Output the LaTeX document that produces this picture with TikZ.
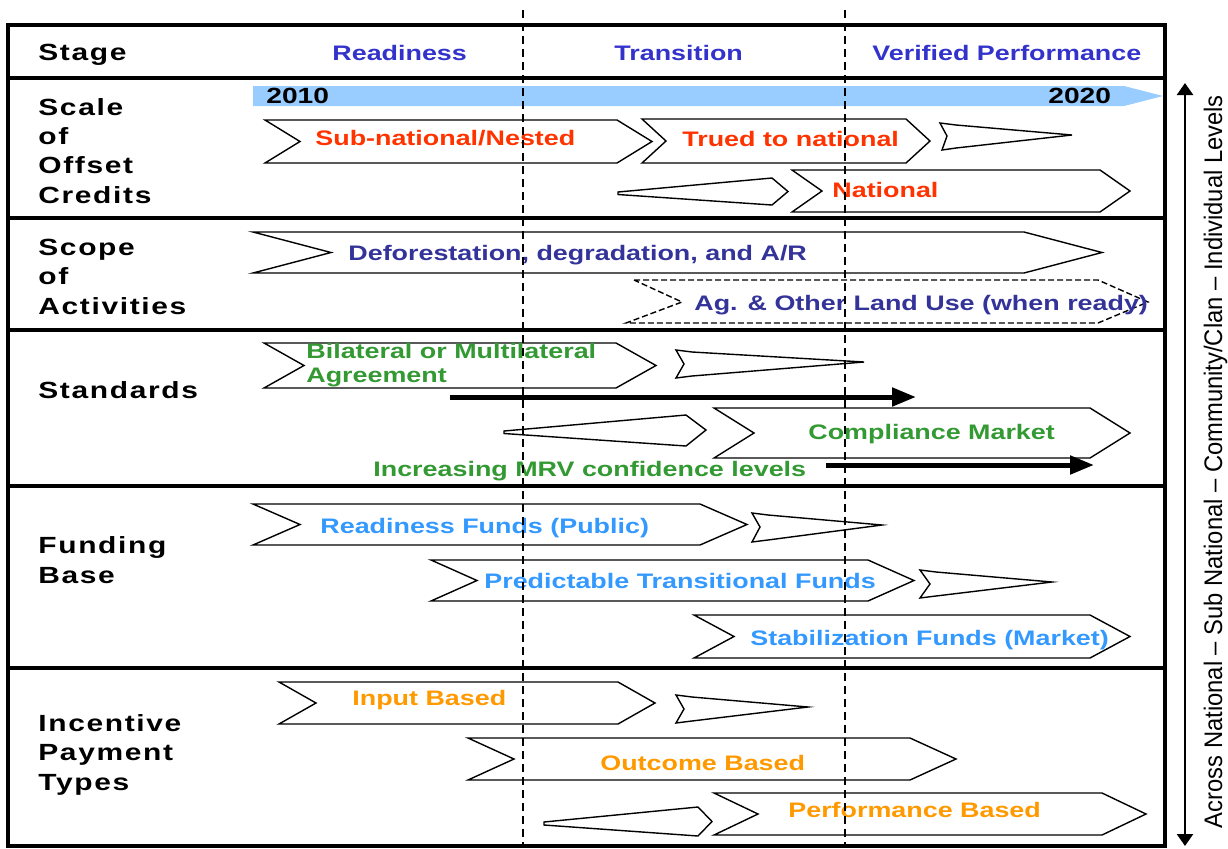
\documentclass[tikz,border=0pt]{standalone}
\usepackage{fontspec}
\setmainfont{Liberation Sans}[FakeStretch=1.28]
\newfontfamily\labelfont{Liberation Sans}[FakeStretch=1.28,LetterSpace=7]
\usetikzlibrary{arrows.meta}
\definecolor{stageblue}{RGB}{51,51,204}
\definecolor{bandblue}{RGB}{153,204,255}
\definecolor{scalered}{RGB}{255,51,0}
\definecolor{scopeblue}{RGB}{51,51,153}
\definecolor{stdgreen}{RGB}{51,153,51}
\definecolor{fundblue}{RGB}{51,153,255}
\definecolor{payorange}{RGB}{255,153,0}
\begin{document}
\begin{tikzpicture}[x=0.5pt,y=-0.5pt]
                \tikzset{every node/.style={inner sep=0pt, anchor=base west, font=\bfseries\fontsize{10.5}{12}\selectfont},
                  rowlabel/.style={align=left, font=\labelfont\bfseries\fontsize{11.7}{14.6}\selectfont},
                  grid/.style={line width=2pt},
                  phase/.style={line width=1pt, dash pattern=on 4pt off 2.5pt},
                  chev/.style={line width=0.7pt},
                  bigarrow/.style={line width=2.5pt, -{Triangle[length=12pt,width=9pt]}}}
                \useasboundingbox (0,0) rectangle (1228,848);
                % table frame and rows
                \draw[grid] (8,25) rectangle (1165,846);
                \draw[grid] (8,78) -- (1165,78);
                \draw[grid] (8,218) -- (1165,218);
                \draw[grid] (8,330) -- (1165,330);
                \draw[grid] (8,486) -- (1165,486);
                \draw[grid] (8,668) -- (1165,668);
                % header
                \node[rowlabel] (stage) at (38,60) {Stage};
                \node[text=stageblue] (ready) at (332,60) {Readiness};
                \node[text=stageblue] (trans) at (614,60) {Transition};
                \node[text=stageblue] (verif) at (872,60) {Verified Performance};
                % row labels (base = last line)
                \node[rowlabel] (scale) at (38,203) {Scale\\of\\Offset\\Credits};
                \node[rowlabel] (scope) at (38,314) {Scope\\of\\Activities};
                \node[rowlabel] (standards) at (38,398) {Standards};
                \node[rowlabel] (funding) at (38,583) {Funding\\Base};
                \node[rowlabel] (incentive) at (38,790) {Incentive\\Payment\\Types};
                % time band
                \fill[bandblue] (253,86) -- (1124,86) -- (1163,96) -- (1124,106) -- (253,106) -- cycle;
                \node[font=\bfseries\fontsize{11}{13}\selectfont] (y2010) at (266,103) {2010};
                \node[font=\bfseries\fontsize{11}{13}\selectfont] (y2020) at (1048,103) {2020};
                % scale of offset credits
                \draw[chev] (265,120) -- (617,120) -- (652,141.5) -- (617,163) -- (265,163) -- (300,141.5) -- cycle;
                \draw[chev] (642,119) -- (906,119) -- (930,141) -- (906,163) -- (642,163) -- (666,141) -- cycle;
                \draw[chev] (940,123) -- (956,125) -- (1072,135) -- (956,148) -- (942,150) -- (947,136) -- cycle;
                \draw[chev] (618,192) -- (772,178) -- (788,191.5) -- (772,205) -- (618,194.5) -- cycle;
                \draw[chev] (792,170) -- (1100,170) -- (1130,191) -- (1100,212) -- (792,212) -- (822,191) -- cycle;
                \node[text=scalered] (subnat) at (315,145) {Sub-national/Nested};
                \node[text=scalered] (trued) at (682,146) {Trued to national};
                \node[text=scalered] (national) at (832,197) {National};
                % scope of activities
                \draw[chev] (253,232) -- (1024,232) -- (1102,252.5) -- (1024,273) -- (253,273) -- (331,252.5) -- cycle;
                \draw[chev, dash pattern=on 3pt off 1.5pt] (634,280) -- (1098,280) -- (1148,302) -- (1098,323) -- (626,323) -- (682,302) -- cycle;
                \node[text=scopeblue] (defor) at (348,260) {Deforestation, degradation, and A/R};
                \node[text=scopeblue] (agland) at (694,310) {Ag. \& Other Land Use (when ready)};
                % standards
                \draw[chev] (264,343) -- (616,343) -- (656,365.5) -- (616,388) -- (264,388) -- (304,365.5) -- cycle;
                \draw[chev] (676,350) -- (692,352) -- (864,362) -- (692,376) -- (676,378) -- (684,364) -- cycle;
                \draw[chev] (504,431) -- (686,415) -- (706,430) -- (686,446) -- (504,433.5) -- cycle;
                \draw[chev] (714,408) -- (1090,408) -- (1130,433) -- (1090,458) -- (714,458) -- (754,433) -- cycle;
                \node[text=stdgreen, align=left, font=\bfseries\fontsize{10.5}{12}\selectfont] (bilat) at (306,382) {Bilateral or Multilateral\\Agreement};
                \node[text=stdgreen] (compl) at (808,439) {Compliance Market};
                \node[text=stdgreen] (mrv) at (373,476) {Increasing MRV confidence levels};
                \coordinate (bilatA) at (450,397);
                \coordinate (bilatB) at (916,397);
                \coordinate (mrvA) at (826,465);
                \coordinate (mrvB) at (1094,465);
                \draw[bigarrow] (bilatA) -- (bilatB);
                \draw[bigarrow] (mrvA) -- (mrvB);
                % funding base
                \draw[chev] (253,504) -- (700,504) -- (747,524.5) -- (700,545) -- (253,545) -- (300,524.5) -- cycle;
                \draw[chev] (752,513) -- (768,515) -- (882,525) -- (768,540) -- (752,542) -- (760,527) -- cycle;
                \draw[chev] (431,560) -- (868,560) -- (914,580.5) -- (868,601) -- (431,601) -- (477,580.5) -- cycle;
                \draw[chev] (920,570) -- (936,572) -- (1052,582) -- (936,596) -- (920,598) -- (930,584) -- cycle;
                \draw[chev] (694,615) -- (1090,615) -- (1130,636.5) -- (1090,658) -- (694,658) -- (734,636.5) -- cycle;
                \node[text=fundblue] (rfund) at (320,533) {Readiness Funds (Public)};
                \node[text=fundblue] (pfund) at (484,588) {Predictable Transitional Funds};
                \node[text=fundblue] (sfund) at (750,645) {Stabilization Funds (Market)};
                % incentive payment types
                \draw[chev] (279,682) -- (618,682) -- (655,703) -- (618,724) -- (279,724) -- (316,703) -- cycle;
                \draw[chev] (676,695) -- (692,697) -- (808,707) -- (692,721) -- (676,723) -- (684,709) -- cycle;
                \draw[chev] (468,738) -- (910,738) -- (956,759) -- (910,780) -- (468,780) -- (514,759) -- cycle;
                \draw[chev] (544,822) -- (698,807) -- (712,821.5) -- (698,836) -- (544,825) -- cycle;
                \draw[chev] (714,793) -- (1102,793) -- (1146,814) -- (1102,835) -- (714,835) -- (758,814) -- cycle;
                \node[text=payorange] (input) at (352,705) {Input Based};
                \node[text=payorange] (outcome) at (600,770) {Outcome Based};
                \node[text=payorange] (perf) at (788,817) {Performance Based};
                % stage boundaries
                \draw[phase] (523,10) -- (523,848);
                \draw[phase] (845,10) -- (845,848);
                % levels axis
                \coordinate (lvtop) at (1185,83);
                \coordinate (lvbot) at (1185,846);
                \draw[line width=1.2pt, {Triangle[length=6pt,width=8pt]}-{Triangle[length=6pt,width=8pt]}] (lvtop) -- (lvbot);
                \node[rotate=90, anchor=base, font=\fontsize{12}{14}\selectfont] (levels) at (1222,461.5)
                  {\resizebox{366.5pt}{9.2pt}{Across National -- Sub National -- Community/Clan -- Individual Levels}};
            \end{tikzpicture}
\end{document}
